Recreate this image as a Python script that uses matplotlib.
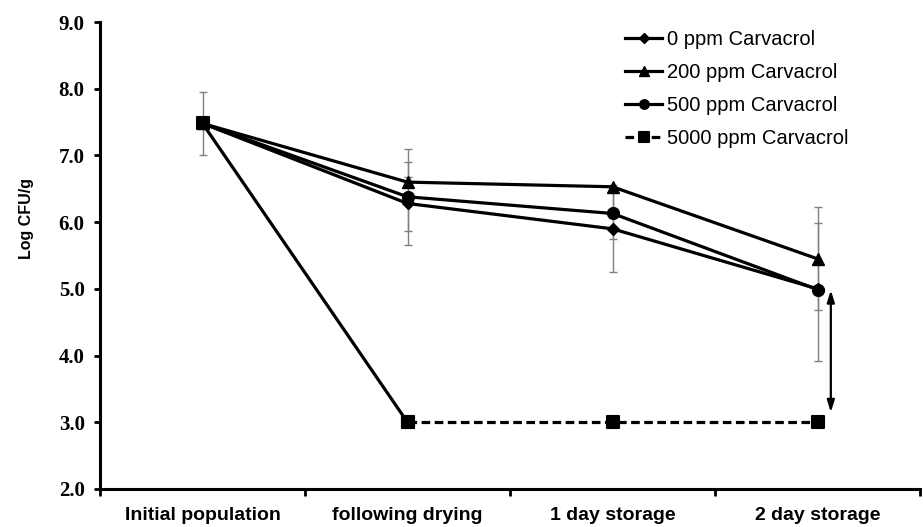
import matplotlib
matplotlib.use('Agg')
import matplotlib.pyplot as plt
from matplotlib.markers import MarkerStyle

stages = ['Initial population', 'following drying', '1 day storage', '2 day storage']
ppm0 = [7.48, 6.28, 5.90, 5.00]
ppm200 = [7.48, 6.60, 6.53, 5.45]
ppm500 = [7.48, 6.38, 6.13, 4.99]
ppm5000 = [7.48, 3.00, 3.00, 3.00]

err0 = [[0.47, 0.62, 0.65, 1.08], [0.47, 0.62, 0.65, 0.98]]
err200 = [[0.0, 0.08, 0.0, 0.77], [0.0, 0.08, 0.0, 0.77]]
err500 = [[0.0, 0.51, 0.38, 0.0], [0.0, 0.72, 0.38, 0.0]]

x = list(range(len(stages)))

fig = plt.figure(figsize=(9.23, 5.27), dpi=100)
ax = fig.add_axes([100 / 923, 38 / 527, 820 / 923, 467 / 527])

for err, vals in [(err0, ppm0), (err200, ppm200), (err500, ppm500)]:
    ax.errorbar(x, vals, yerr=err, fmt='none', ecolor='#808080',
                elinewidth=1, capsize=3, capthick=1, zorder=1)

lw = 2.3
ax.plot(x, ppm0, color='k', lw=lw, marker='D', ms=6.5, label='0 ppm Carvacrol', zorder=3)
ax.plot(x, ppm200, color='k', lw=lw, marker='^', ms=8.5, label='200 ppm Carvacrol', zorder=3)
ax.plot(x, ppm500, color='k', lw=lw, marker='o', ms=8.5, label='500 ppm Carvacrol', zorder=3)
sq = MarkerStyle('s', joinstyle='round')
ax.plot(x[:2], ppm5000[:2], color='k', lw=lw, marker=sq, ms=8.5, mew=1.5, zorder=3)
ax.plot(x[1:], ppm5000[1:], color='k', lw=lw, ls=(0, (2.7, 1.4)), marker=sq, ms=8.5,
        mew=1.5, label='5000 ppm Carvacrol', zorder=3)

# difference arrow at 2 day storage
ax.annotate('', xy=(3.065, 4.98), xytext=(3.065, 3.15),
            arrowprops=dict(arrowstyle='<|-|>,head_length=0.7,head_width=0.22',
                            color='k', lw=1.6, shrinkA=0, shrinkB=0))

ax.set_xlim(-0.5, 3.5)
ax.set_ylim(2, 9)
ax.set_yticks([2, 3, 4, 5, 6, 7, 8, 9])
ax.set_yticklabels(['%.1f' % v for v in [2, 3, 4, 5, 6, 7, 8, 9]],
                   family='Liberation Serif', fontweight='bold', fontsize=15)
ax.set_xticks(x)
ax.set_xticklabels(stages, family='Liberation Sans', fontweight='bold', fontsize=14)
ax.set_xticks([-0.5, 0.5, 1.5, 2.5, 3.5], minor=True)
ax.tick_params(axis='x', which='major', length=0, pad=13)
ax.tick_params(axis='x', which='minor', length=5, width=2, direction='out')
ax.tick_params(axis='y', length=4, width=2, direction='out', pad=7)

for s in ['top', 'right']:
    ax.spines[s].set_visible(False)
for s in ['left', 'bottom']:
    ax.spines[s].set_linewidth(2.2)

ax.set_ylabel('Log CFU/g', family='Liberation Sans', fontweight='bold', fontsize=11.5)
ax.yaxis.set_label_coords(-0.08, 0.58)

ax.legend(loc='upper left', bbox_to_anchor=(625 / 923, 1 - 30 / 527),
          bbox_transform=fig.transFigure, frameon=False, borderpad=0,
          borderaxespad=0, handlelength=1.85, handletextpad=0.25,
          labelspacing=0.7, prop={'family': 'Liberation Sans', 'size': 14.5},
          markerscale=0.8)

fig.savefig('out.png', dpi=100)
